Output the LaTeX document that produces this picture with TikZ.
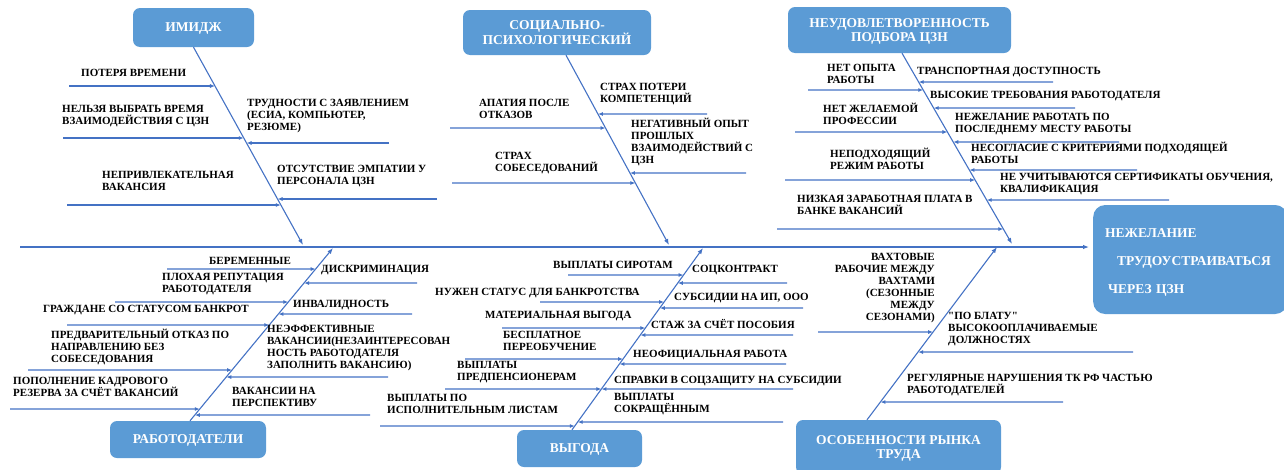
\documentclass[tikz,border=0pt]{standalone}
\usepackage{fontspec}
\setmainfont{Liberation Serif}[Ligatures=TeXOff]
\usetikzlibrary{arrows.meta}
\definecolor{lineblue}{HTML}{4472C4}
\definecolor{boxblue}{HTML}{5B9BD5}
\newcommand\lblfont{\bfseries\fontsize{11}{12}\selectfont}
\newcommand\catfont{\bfseries\fontsize{13.5}{14}\selectfont}
\newcommand\fishrib[4]{%
  \coordinate (#1s) at (#2,#3);
  \coordinate (#1f) at (#2+50,#3);
  \coordinate (#1e) at (intersection of #4s--#4e and #1s--#1f);
  \draw[rib] (#1s) -- (#1e);
}
\begin{document}
\begin{tikzpicture}[x=1pt,y=-1pt,
  lbl/.style={anchor=north west, inner sep=0pt, align=left, font=\lblfont, yshift=5pt, execute at begin node=\strut},
  lblr/.style={lbl, anchor=north east, align=right},
  cat/.style={rectangle, rounded corners=7pt, fill=boxblue, text=white, font=\catfont, align=center, inner sep=0pt},
  catc/.style={cat, text depth=0pt},
  bone/.style={draw=lineblue, line width=1.1pt, -{Latex[length=6pt,width=4.5pt]}},
  rib/.style={draw=lineblue, line width=1.1pt, -{Latex[length=5pt,width=4pt]}}]
\useasboundingbox (0,0) rectangle (1284,469);

% category boxes
\node[catc, minimum width=121pt, minimum height=39pt] (img) at (193.5,27.5) {ИМИДЖ};
\node[catc, minimum width=188pt, minimum height=45pt] (soc) at (557,32.5) {СОЦИАЛЬНО-\\ПСИХОЛОГИЧЕСКИЙ};
\node[catc, minimum width=223pt, minimum height=46pt] (neud) at (899.5,30) {НЕУДОВЛЕТВОРЕННОСТЬ\\ПОДБОРА ЦЗН};
\node[catc, minimum width=156pt, minimum height=37pt] (rab) at (188,439.5) {РАБОТОДАТЕЛИ};
\node[catc, minimum width=125pt, minimum height=37pt] (vyg) at (579.5,448.5) {ВЫГОДА};
\node[catc, minimum width=205pt, minimum height=54pt] (osob) at (898.5,447) {ОСОБЕННОСТИ РЫНКА\\ТРУДА};
\node[cat, rounded corners=12pt, anchor=west, text width=170pt, align=left, inner xsep=12pt, minimum height=109pt] (eff) at (1093,259.5)
  {\rule{0pt}{15pt}НЕЖЕЛАНИЕ\\[14pt]\hspace*{12pt}ТРУДОУСТРАИВАТЬСЯ\\[14pt]\hspace*{3pt}ЧЕРЕЗ ЦЗН};

% spine
\coordinate (spineL) at (20,247);
\draw[bone, shorten >=4pt] (spineL) -- (spineL -| eff.west);

% bones
\coordinate (b1s) at (img.south);        \coordinate (b1e) at (303,245);
\coordinate (b2s) at ([xshift=9pt]soc.south);   \coordinate (b2e) at (669,245);
\coordinate (b3s) at ([xshift=2.5pt]neud.south); \coordinate (b3e) at (1012,244);
\coordinate (b4s) at ([xshift=2pt]rab.north);    \coordinate (b4e) at (333,248);
\coordinate (b5s) at ([xshift=-7.5pt]vyg.north); \coordinate (b5e) at (703,248);
\coordinate (b6s) at ([xshift=-31.5pt]osob.north); \coordinate (b6e) at (997,247);
\foreach \b in {b1,b2,b3,b4,b5,b6} \draw[bone] (\b s) -- (\b e);

% ИМИДЖ
\node[lbl] (l11) at (81,73) {ПОТЕРЯ ВРЕМЕНИ};
\node[lbl] (l12) at (62,110) {НЕЛЬЗЯ ВЫБРАТЬ ВРЕМЯ\\ВЗАИМОДЕЙСТВИЯ С ЦЗН};
\node[lbl] (l13) at (247,104) {ТРУДНОСТИ С ЗАЯВЛЕНИЕМ\\(ЕСИА, КОМПЬЮТЕР,\\РЕЗЮМЕ)};
\node[lbl] (l14) at (102,176) {НЕПРИВЛЕКАТЕЛЬНАЯ\\ВАКАНСИЯ};
\node[lbl] (l15) at (277,170) {ОТСУТСТВИЕ ЭМПАТИИ У\\ПЕРСОНАЛА ЦЗН};
\fishrib{r11}{69}{86}{b1}
\fishrib{r12}{63}{138}{b1}
\fishrib{r13}{389}{143}{b1}
\fishrib{r14}{67}{205}{b1}
\fishrib{r15}{437}{199}{b1}

% СОЦИАЛЬНО-ПСИХОЛОГИЧЕСКИЙ
\node[lbl] (l21) at (600,88) {СТРАХ ПОТЕРИ\\КОМПЕТЕНЦИЙ};
\node[lbl] (l22) at (479,104) {АПАТИЯ ПОСЛЕ\\ОТКАЗОВ};
\node[lbl] (l23) at (631,123) {НЕГАТИВНЫЙ ОПЫТ\\ПРОШЛЫХ\\ВЗАИМОДЕЙСТВИЙ С\\ЦЗН};
\node[lbl] (l24) at (495,157) {СТРАХ\\СОБЕСЕДОВАНИЙ};
\fishrib{r21}{707}{114}{b2}
\fishrib{r22}{450}{128}{b2}
\fishrib{r23}{746}{173}{b2}
\fishrib{r24}{452}{183}{b2}

% НЕУДОВЛЕТВОРЕННОСТЬ ПОДБОРА ЦЗН
\node[lbl] (l31) at (827,69) {НЕТ ОПЫТА\\РАБОТЫ};
\node[lbl] (l32) at (917,71) {ТРАНСПОРТНАЯ ДОСТУПНОСТЬ};
\node[lbl] (l33) at (930,95) {ВЫСОКИЕ ТРЕБОВАНИЯ РАБОТОДАТЕЛЯ};
\node[lbl] (l34) at (823,108) {НЕТ ЖЕЛАЕМОЙ\\ПРОФЕССИИ};
\node[lbl] (l35) at (955,118) {НЕЖЕЛАНИЕ РАБОТАТЬ ПО\\ПОСЛЕДНЕМУ МЕСТУ РАБОТЫ};
\node[lbl] (l36) at (971,147) {НЕСОГЛАСИЕ С КРИТЕРИЯМИ ПОДХОДЯЩЕЙ\\РАБОТЫ};
\node[lbl] (l37) at (830,153) {НЕПОДХОДЯЩИЙ\\РЕЖИМ РАБОТЫ};
\node[lbl] (l38) at (1000,178) {НЕ УЧИТЫВАЮТСЯ СЕРТИФИКАТЫ ОБУЧЕНИЯ,\\КВАЛИФИКАЦИЯ};
\node[lbl] (l39) at (797,200) {НИЗКАЯ ЗАРАБОТНАЯ ПЛАТА В\\БАНКЕ ВАКАНСИЙ};
\fishrib{r31}{808}{90}{b3}
\fishrib{r32}{1053}{82}{b3}
\fishrib{r33}{1075}{108}{b3}
\fishrib{r34}{795}{132}{b3}
\fishrib{r35}{1119}{142}{b3}
\fishrib{r36}{1137}{170}{b3}
\fishrib{r37}{785}{180}{b3}
\fishrib{r38}{1169}{200}{b3}
\fishrib{r39}{777}{229}{b3}

% РАБОТОДАТЕЛИ
\node[lbl] (l41) at (209,261) {БЕРЕМЕННЫЕ};
\node[lbl] (l42) at (321,269) {ДИСКРИМИНАЦИЯ};
\node[lbl] (l43) at (162,278) {ПЛОХАЯ РЕПУТАЦИЯ\\РАБОТОДАТЕЛЯ};
\node[lbl] (l44) at (293,304) {ИНВАЛИДНОСТЬ};
\node[lbl] (l45) at (43,309) {ГРАЖДАНЕ СО СТАТУСОМ БАНКРОТ};
\node[lbl] (l46) at (51,334) {ПРЕДВАРИТЕЛЬНЫЙ ОТКАЗ ПО\\НАПРАВЛЕНИЮ БЕЗ\\СОБЕСЕДОВАНИЯ};
\node[lbl] (l47) at (267,330) {НЕЭФФЕКТИВНЫЕ\\ВАКАНСИИ(НЕЗАИНТЕРЕСОВАН\\НОСТЬ РАБОТОДАТЕЛЯ\\ЗАПОЛНИТЬ ВАКАНСИЮ)};
\node[lbl] (l48) at (13,382) {ПОПОЛНЕНИЕ КАДРОВОГО\\РЕЗЕРВА ЗА СЧЁТ ВАКАНСИЙ};
\node[lbl] (l49) at (232,392) {ВАКАНСИИ НА\\ПЕРСПЕКТИВУ};
\fishrib{r41}{167}{269}{b4}
\fishrib{r42}{417}{283}{b4}
\fishrib{r43}{115}{302}{b4}
\fishrib{r44}{412}{314}{b4}
\fishrib{r45}{67}{325}{b4}
\fishrib{r46}{28}{370}{b4}
\fishrib{r47}{388}{377}{b4}
\fishrib{r48}{10}{409}{b4}
\fishrib{r49}{370}{415}{b4}

% ВЫГОДА
\node[lbl] (l51) at (553,265) {ВЫПЛАТЫ СИРОТАМ};
\node[lbl] (l52) at (692,269) {СОЦКОНТРАКТ};
\node[lbl] (l53) at (435,292) {НУЖЕН СТАТУС ДЛЯ БАНКРОТСТВА};
\node[lbl] (l54) at (674,297) {СУБСИДИИ НА ИП, ООО};
\node[lbl] (l55) at (485,315) {МАТЕРИАЛЬНАЯ ВЫГОДА};
\node[lbl] (l56) at (651,324) {СТАЖ ЗА СЧЁТ ПОСОБИЯ};
\node[lbl] (l57) at (503,336) {БЕСПЛАТНОЕ\\ПЕРЕОБУЧЕНИЕ};
\node[lbl] (l58) at (633,354) {НЕОФИЦИАЛЬНАЯ РАБОТА};
\node[lbl] (l59) at (457,366) {ВЫПЛАТЫ\\ПРЕДПЕНСИОНЕРАМ};
\node[lbl] (l5a) at (614,380) {СПРАВКИ В СОЦЗАЩИТУ НА СУБСИДИИ};
\node[lbl] (l5b) at (387,399) {ВЫПЛАТЫ ПО\\ИСПОЛНИТЕЛЬНЫМ ЛИСТАМ};
\node[lbl] (l5c) at (614,398) {ВЫПЛАТЫ\\СОКРАЩЁННЫМ};
\fishrib{r51}{568}{275}{b5}
\fishrib{r52}{787}{283}{b5}
\fishrib{r53}{540}{302}{b5}
\fishrib{r54}{803}{308}{b5}
\fishrib{r55}{502}{328}{b5}
\fishrib{r56}{793}{335}{b5}
\fishrib{r57}{465}{359}{b5}
\fishrib{r58}{786}{364}{b5}
\fishrib{r59}{445}{389}{b5}
\fishrib{r5a}{793}{389}{b5}
\fishrib{r5b}{380}{426}{b5}
\fishrib{r5c}{783}{422}{b5}

% ОСОБЕННОСТИ РЫНКА ТРУДА
\node[lblr] (l61) at (935,258) {ВАХТОВЫЕ\\РАБОЧИЕ МЕЖДУ\\ВАХТАМИ\\(СЕЗОННЫЕ\\МЕЖДУ\\СЕЗОНАМИ)};
\node[lbl] (l62) at (948,317) {"ПО БЛАТУ"\\ВЫСОКООПЛАЧИВАЕМЫЕ\\ДОЛЖНОСТЯХ};
\node[lbl] (l63) at (907,379) {РЕГУЛЯРНЫЕ НАРУШЕНИЯ ТК РФ ЧАСТЬЮ\\РАБОТОДАТЕЛЕЙ};
\fishrib{r61}{818}{332}{b6}
\fishrib{r62}{1133}{352}{b6}
\fishrib{r63}{1063}{402}{b6}
\end{tikzpicture}
\end{document}
